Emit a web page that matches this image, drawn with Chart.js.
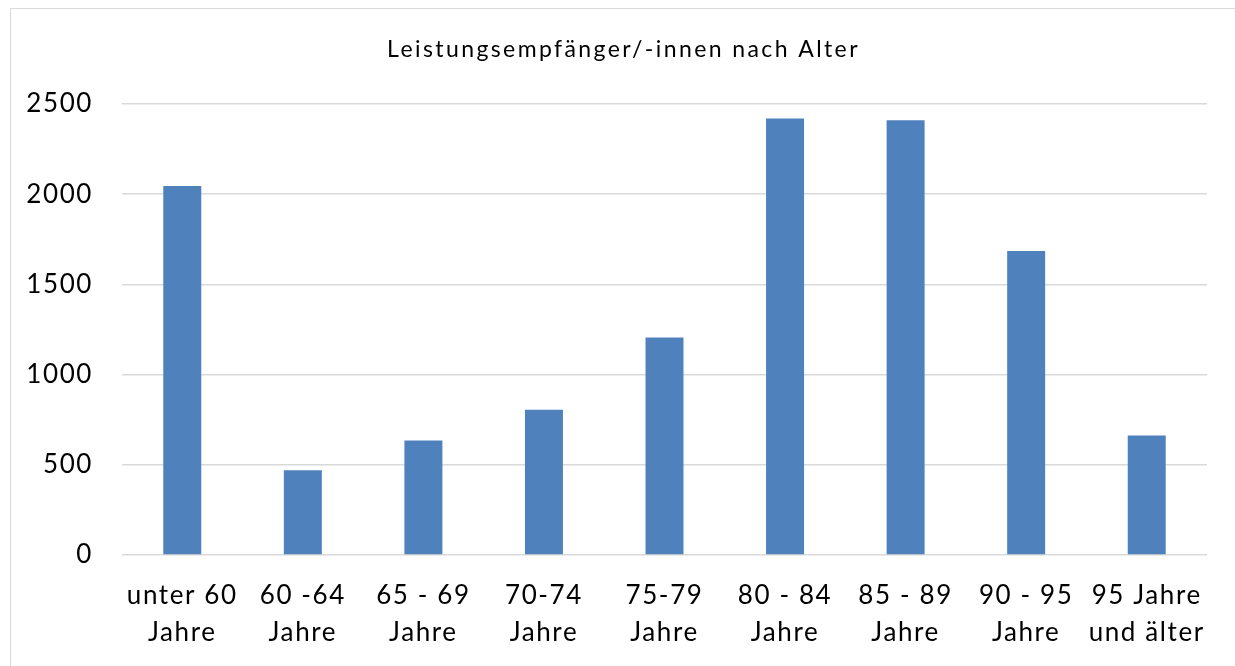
<!DOCTYPE html>
<html lang="de">
<head>
<meta charset="utf-8">
<title>Leistungsempfänger/-innen nach Alter</title>
<script src="https://cdn.jsdelivr.net/npm/chart.js@4/dist/chart.umd.min.js"></script>
<style>
  html, body { margin: 0; padding: 0; background: #fff; }
  #wrap { position: relative; width: 1235px; height: 666px; overflow: hidden; }
  #frame { position: absolute; left: 10px; top: 8px; width: 1300px; height: 700px; border: 1px solid #d9d9d9; }
  #box { position: absolute; left: 10px; top: 0; width: 1227px; height: 666px; }
</style>
</head>
<body>
<div id="wrap">
  <div id="frame"></div>
  <div id="box"><canvas id="chart"></canvas></div>
</div>
<script>
// data
const titleText = "Leistungsempfänger/-innen nach Alter";
const categories = [
  ["unter 60", "Jahre"],
  ["60 -64", "Jahre"],
  ["65 - 69", "Jahre"],
  ["70-74", "Jahre"],
  ["75-79", "Jahre"],
  ["80 - 84", "Jahre"],
  ["85 - 89", "Jahre"],
  ["90 - 95", "Jahre"],
  ["95 Jahre", "und älter"]
];
const recipients = [2045, 470, 635, 805, 1205, 2420, 2410, 1685, 662];
const yTicks = [0, 500, 1000, 1500, 2000, 2500];

const fontFamily = "Lato, 'Open Sans', sans-serif";

// the original (Calibri) runs wider than Lato, so open the letters up a bit
const spacing = {
  id: "spacing",
  beforeDraw(chart) {
    chart.ctx.letterSpacing = "1.6px";
  },
  afterDraw(chart) {
    const ctx = chart.ctx;
    ctx.save();
    ctx.font = "23px " + fontFamily;
    ctx.letterSpacing = "2.4px";
    ctx.fillStyle = "#000";
    ctx.textAlign = "center";
    ctx.textBaseline = "alphabetic";
    ctx.fillText(titleText, chart.width / 2, 57);
    ctx.restore();
  }
};

new Chart(document.getElementById("chart"), {
  type: "bar",
  data: {
    labels: categories,
    datasets: [{
      label: titleText,
      data: recipients,
      backgroundColor: "#4f81bd",
      categoryPercentage: 1,
      barPercentage: 0.315
    }]
  },
  options: {
    responsive: true,
    maintainAspectRatio: false,
    animation: false,
    layout: { padding: { left: 0, right: 30, top: 104, bottom: 0 } },
    plugins: {
      legend: { display: false },
      tooltip: { enabled: false },
      title: { display: false }
    },
    scales: {
      x: {
        grid: { display: false, drawTicks: false },
        border: { display: false },
        ticks: {
          color: "#000",
          font: { family: fontFamily, size: 26, lineHeight: 1.42 },
          padding: 22,
          maxRotation: 0,
          autoSkip: false
        },
        afterFit: (scale) => { scale.height = 111; }
      },
      y: {
        min: yTicks[0],
        max: yTicks[yTicks.length - 1],
        afterBuildTicks: (scale) => { scale.ticks = yTicks.map(v => ({ value: v })); },
        grid: { color: "#d9d9d9", lineWidth: 1.5, drawTicks: false },
        border: { display: false },
        ticks: {
          color: "#000",
          font: { family: fontFamily, size: 26 },
          padding: 29,
          callback: (v) => String(v)
        },
        afterFit: (scale) => { scale.width = 112; }
      }
    }
  },
  plugins: [spacing]
});
</script>
</body>
</html>
